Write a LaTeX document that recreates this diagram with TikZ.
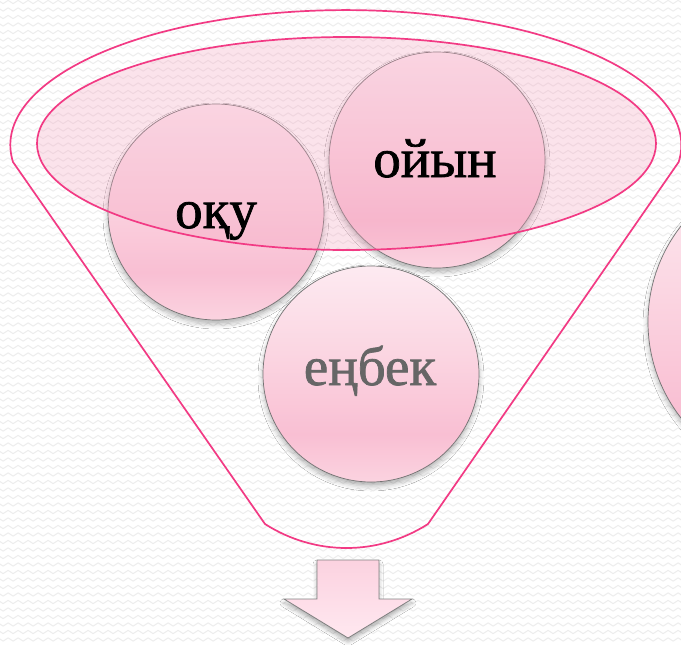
\documentclass[tikz,border=0pt]{standalone}
\usepackage{fontspec}
\setmainfont{Liberation Serif}[BoldFont={Liberation Serif}, BoldFeatures={FakeBold=1.3}]
\usetikzlibrary{shadows.blur,decorations.pathmorphing}
\definecolor{fpink}{HTML}{F23A84}
\definecolor{ctop}{HTML}{FDEAF1}
\definecolor{cmid}{HTML}{FBD6E2}
\definecolor{cdeep}{HTML}{F9BFD3}
\definecolor{cbot}{HTML}{FBD3E0}
\definecolor{elfill}{HTML}{F5A3BF}
\definecolor{bgwave}{HTML}{EDEDED}
\definecolor{txtgray}{HTML}{666666}
\definecolor{atop}{HTML}{FCD2E0}
\definecolor{abot}{HTML}{FFE8F0}
\pgfdeclareverticalshading{ballshade}{100bp}{color(0bp)=(cbot); color(25bp)=(cbot); color(36bp)=(cdeep); color(55bp)=(cmid); color(75bp)=(ctop); color(100bp)=(ctop)}
\tikzset{
 ball/.style={circle, minimum size=216pt, inner sep=0pt, draw=gray!90!black, line width=0.7pt,
   shading=ballshade,
   blur shadow={shadow xshift=0pt, shadow yshift=-4pt, shadow blur radius=5pt, shadow opacity=30}},
 word/.style={font=\fontsize{55}{60}\selectfont\bfseries, anchor=base, inner sep=0pt},
 funnel/.style={draw=fpink, line width=1.7pt},
 arrowbox/.style={draw=gray, line width=0.8pt, top color=atop, bottom color=abot,
   blur shadow={shadow xshift=0pt, shadow yshift=-4pt, shadow blur radius=4pt, shadow opacity=30}},
 wave/.style={draw=bgwave, line width=1pt, decorate, decoration={snake, segment length=10pt, amplitude=1.6pt}}
}
\begin{document}
\begin{tikzpicture}[x=1pt,y=-1pt]
\useasboundingbox (0,0) rectangle (681,645);
\clip (0,0) rectangle (681,645);
\fill[white] (0,0) rectangle (681,645);
\foreach \yy in {2,9.5,...,650}{\draw[wave] (-5,\yy) -- (690,\yy);}
% funnel outline
\draw[funnel] (13,162) arc[start angle=172.8, end angle=367.2, x radius=335.5, y radius=135]
  -- (428,524) .. controls (378,556) and (315,556) .. (265,524) -- cycle;
% balls
\node[ball] (c1) at (216,212) {};
\node[ball] (c2) at (437,160) {};
\node[ball] (c3) at (371,374) {};
\node[ball, minimum size=312pt] (c4) at (804,322) {};
% top ellipse
\draw[funnel, fill=elfill, fill opacity=0.3] (346.5,143.5) ellipse[x radius=309.5, y radius=106.5];
% words
\node[word] (t1) at (216,228) {оқу};
\node[word] (t2) at (435,177) {ойын};
\node[word, text=txtgray] (t3) at (370,385) {еңбек};
% arrow
\draw[arrowbox] (317,560) -- (379,560) -- (379,599) -- (412,599) -- (348,638) -- (284,599) -- (317,599) -- cycle;
\end{tikzpicture}
\end{document}
